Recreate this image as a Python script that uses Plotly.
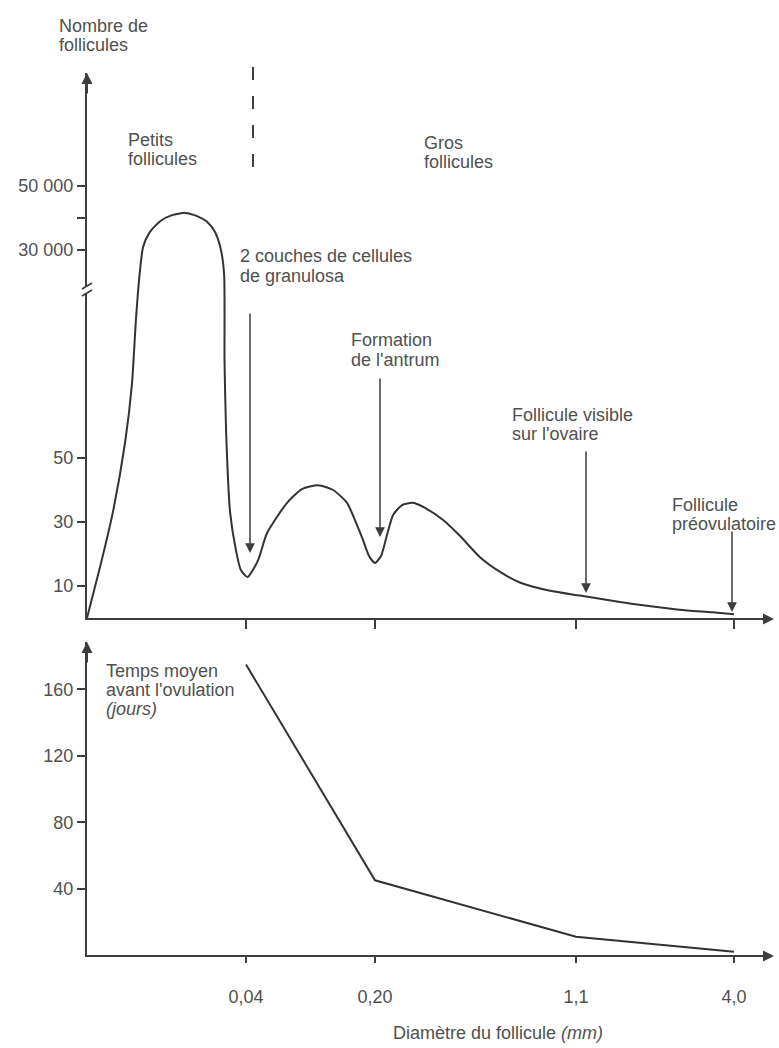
import numpy as np
import plotly.graph_objects as go

# ---------------- data ----------------
DIAM_TICKS = [0.0, 0.04, 0.20, 1.1, 4.0]
DIAM_LABELS = ["", "0,04", "0,20", "1,1", "4,0"]

# Nombre de follicules vs diamètre (mm)
follicle_diam = [0.0, 0.0033, 0.0065, 0.0096, 0.0113, 0.0123,
                 0.0131, 0.0141, 0.0158, 0.0184, 0.0214, 0.0247, 0.0277,
                 0.0302, 0.0322, 0.0337, 0.0345,
                 0.0346, 0.035, 0.036, 0.0375, 0.0387, 0.042,
                 0.0549, 0.066, 0.0909, 0.1095, 0.1293, 0.148, 0.1653,
                 0.1777, 0.1851, 0.1926, 0.20, 0.227, 0.254, 0.281,
                 0.321, 0.370, 0.424, 0.505, 0.581, 0.670, 0.760, 0.851,
                 0.984, 1.173, 1.908, 2.403, 3.0, 3.6, 4.0]
follicle_count = [0, 16, 33, 55, 73, 93,
                  20600, 30900, 35600, 39000, 40900, 41600, 40600,
                  38800, 35600, 30000, 22200,
                  80, 58, 33, 21, 15, 12.8,
                  18, 26.5, 36, 40.3, 41.5, 40, 36,
                  29, 24.4, 19.4, 17.2, 19.4, 26, 32.2,
                  35.3, 36, 34.4, 30.6, 25.6, 19, 14.4, 11,
                  8.5, 7, 5, 3.8, 2.6, 1.8, 1.2]

# Temps moyen avant l'ovulation (jours)
time_diam = [0.04, 0.20, 1.1, 4.0]
time_days = [175, 45, 11, 2]

COUNT_TICKS = [10, 30, 50, 30000, 40000, 50000]
COUNT_LABELS = ["10", "30", "50", "30 000", "", "50 000"]
DAYS_TICKS = [40, 80, 120, 160]
DAYS_LABELS = ["40", "80", "120", "160"]

# ---------------- layout helpers ----------------
W, H = 779, 1048
TICK_POS = [0, 159, 288, 489, 647]     # schematic x-axis positions of the labelled diameters
X_RANGE = [0, 685]
BREAK_LOW, BREAK_HIGH, UPPER_STEP = 102.5, 17500.0, 1000.0


def x_pos(d):
    return np.interp(np.asarray(d, float), DIAM_TICKS, TICK_POS)


def y_disp(v):
    v = np.asarray(v, float)
    return np.where(v <= BREAK_LOW, v, BREAK_LOW + (v - BREAK_HIGH) / UPPER_STEP)


def px(x):
    return x / W


def py(y):
    return 1 - y / H


LINE = "#333333"
AXIS = "#3d3d3d"
TEXT = "#505050"
FONT = "Liberation Sans, Arial, Helvetica, sans-serif"
FS = 18

fig = go.Figure()
fig.add_trace(go.Scatter(x=x_pos(follicle_diam), y=y_disp(follicle_count),
                         mode="lines", line=dict(color=LINE, width=2, shape="spline", smoothing=0.6),
                         xaxis="x", yaxis="y", showlegend=False, hoverinfo="skip"))
fig.add_trace(go.Scatter(x=x_pos(time_diam), y=time_days,
                         mode="lines", line=dict(color=LINE, width=2),
                         xaxis="x2", yaxis="y2", showlegend=False, hoverinfo="skip"))

x_dom = [px(87), px(772)]
top_dom = [py(618), py(73)]
bot_dom = [py(955), py(642)]

common_x = dict(domain=x_dom, range=X_RANGE, showgrid=False, zeroline=False,
                showline=True, linecolor=AXIS, linewidth=2,
                tickmode="array", tickvals=list(x_pos(DIAM_TICKS[1:])),
                ticks="outside", tickcolor=AXIS, tickwidth=1.5, fixedrange=True)
common_y = dict(showgrid=False, zeroline=False, showline=True, linecolor=AXIS, linewidth=2,
                ticks="outside", tickcolor=AXIS, tickwidth=1.5, ticklen=8,
                tickfont=dict(family=FONT, size=FS, color=TEXT), fixedrange=True)

fig.update_layout(
    width=W, height=H, autosize=False,
    margin=dict(l=0, r=0, t=0, b=0),
    paper_bgcolor="white", plot_bgcolor="white",
    xaxis=dict(**common_x, anchor="y", showticklabels=False, ticklen=9),
    yaxis=dict(**common_y, domain=top_dom, anchor="x", range=[0, (618 - 73) / 3.2],
               tickmode="array", tickvals=list(y_disp(COUNT_TICKS)), ticktext=COUNT_LABELS),
    xaxis2=dict(**common_x, anchor="y2", ticklen=6,
                ticktext=DIAM_LABELS[1:], ticklabelstandoff=18,
                tickfont=dict(family=FONT, size=FS, color=TEXT)),
    yaxis2=dict(**common_y, domain=bot_dom, anchor="x2", range=[0, (955 - 642) / 1.66],
                tickmode="array", tickvals=DAYS_TICKS, ticktext=DAYS_LABELS),
)

ann = []


def text(x, y, s, italic=False):
    ann.append(dict(x=px(x), y=py(y), xref="paper", yref="paper", text=s, showarrow=False,
                    xanchor="left", yanchor="middle",
                    font=dict(family=FONT, size=FS, color=TEXT,
                              style="italic" if italic else "normal")))


def arrow(x, y_head, y_tail, width=1.5, size=1.3):
    ann.append(dict(x=px(x), y=py(y_head), xref="paper", yref="paper", text="",
                    showarrow=True, ax=0, ay=y_tail - y_head, axref="pixel", ayref="pixel",
                    arrowhead=2, arrowsize=size, arrowwidth=width, arrowcolor=AXIS))


def harrow(x_head, y, x_tail):
    ann.append(dict(x=px(x_head), y=py(y), xref="paper", yref="paper", text="",
                    showarrow=True, ax=x_tail - x_head, ay=0, axref="pixel", ayref="pixel",
                    arrowhead=2, arrowsize=1.1, arrowwidth=2, arrowcolor=AXIS))


# texts
text(57, 26, "Nombre de")
text(57, 45, "follicules")
text(126, 140, "Petits")
text(126, 159, "follicules")
text(422, 143, "Gros")
text(422, 162, "follicules")
text(238, 256, "2 couches de cellules")
text(238, 276, "de granulosa")
text(349, 340, "Formation")
text(349, 360, "de l'antrum")
text(510, 415, "Follicule visible")
text(510, 434, "sur l'ovaire")
text(670, 505, "Follicule")
text(670, 524, "préovulatoire")
text(104, 671, "Temps moyen")
text(104, 690, "avant l'ovulation")
text(104, 709, "(jours)", italic=True)
ann.append(dict(x=px(498), y=py(1033), xref="paper", yref="paper", showarrow=False,
                text="Diamètre du follicule <i>(mm)</i>", xanchor="center", yanchor="middle",
                font=dict(family=FONT, size=FS, color=TEXT)))

# pointer arrows
arrow(250, 553, 312)
arrow(380, 537, 377)
arrow(586, 593, 450)
arrow(732, 612, 530)

# axis arrow heads
arrow(87, 73, 95, width=2, size=1.1)
arrow(87, 642, 664, width=2, size=1.1)
harrow(774, 619, 750)
harrow(774, 956, 750)

fig.update_layout(annotations=ann)

shapes = []
# dashed separator
shapes.append(dict(type="line", xref="paper", yref="paper", x0=px(253), x1=px(253),
                   y0=py(67), y1=py(175), line=dict(color=AXIS, width=2, dash="13px,16px")))
# axis break
shapes.append(dict(type="rect", xref="paper", yref="paper", x0=px(84), x1=px(90),
                   y0=py(293), y1=py(286), fillcolor="white", line=dict(width=0)))
for yb in (286, 293):
    shapes.append(dict(type="line", xref="paper", yref="paper", x0=px(82), x1=px(92),
                       y0=py(yb + 3), y1=py(yb - 3), line=dict(color=AXIS, width=1.6)))
fig.update_layout(shapes=shapes)

fig.write_html("out.html")
